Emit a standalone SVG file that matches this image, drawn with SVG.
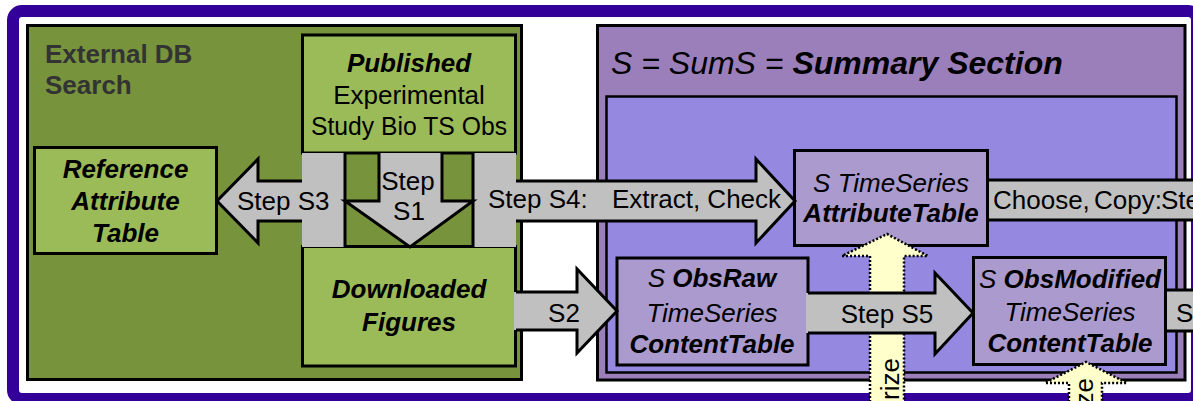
<svg xmlns="http://www.w3.org/2000/svg" width="1193" height="401" viewBox="0 0 1193 401">
<style>
  text { font-family: "Liberation Sans", Arial, "DejaVu Sans", sans-serif; font-size: 26px; fill: #000; }
  .bi { font-weight: bold; font-style: italic; }
  .i { font-style: italic; }
  .b { font-weight: bold; }
  .mid { text-anchor: middle; }
  .box { stroke: #000; stroke-width: 3; }
  .green { fill: #9BBB59; }
  .node { fill: #AA9ACD; }
  .grey { fill: #C0C0C0; }
  .edge { fill: none; stroke: #000; stroke-width: 3; stroke-linejoin: miter; }
  .yel { fill: #FFFFCC; stroke: #000; stroke-width: 2.5; stroke-dasharray: 2 2; }
</style>

<rect x="0" y="0" width="1193" height="401" fill="#FFFFFF"/>

<!-- outer frame -->
<rect id="frame" x="13" y="11" width="1184" height="388" rx="9" fill="none" stroke="#330099" stroke-width="12"/>

<!-- external database area -->
<g id="external-db">
  <rect x="27.5" y="25.5" width="494" height="354" fill="#77933C" class="box"/>
  <text x="45" y="63" class="b" style="fill:#333">External DB</text>
  <text x="45" y="94" class="b" style="fill:#333">Search</text>
</g>

<!-- summary section area -->
<g id="summary-section">
  <rect x="597.5" y="25.5" width="587.5" height="354.5" fill="#9B7FBB" class="box"/>
  <text x="611" y="74" style="font-size:32px"><tspan class="i">S = SumS = </tspan><tspan class="bi">Summary Section</tspan></text>
  <rect x="606.5" y="96.5" width="570" height="276" fill="#9488E0" stroke="#000" stroke-width="2.5"/>
</g>

<g id="node-reference">
  <rect x="34.5" y="147.5" width="182" height="106" class="box green"/>
  <text x="125.5" y="178" class="bi mid">Reference</text>
  <text x="125.5" y="210" class="bi mid">Attribute</text>
  <text x="125.5" y="242" class="bi mid">Table</text>
</g>

<g id="node-published">
  <rect x="302.5" y="35" width="213" height="118" class="box green"/>
  <text x="409" y="72" class="bi mid">Published</text>
  <text x="409" y="104" class="mid">Experimental</text>
  <text x="409" y="135" class="mid" textLength="196" lengthAdjust="spacingAndGlyphs">Study Bio TS Obs</text>
</g>

<g id="node-downloaded">
  <rect x="302.5" y="246.5" width="213" height="119.5" class="box green"/>
  <text x="409" y="298" class="bi mid">Downloaded</text>
  <text x="409" y="331" class="bi mid">Figures</text>
</g>

<g id="node-attribute-table">
  <rect x="794.5" y="150.5" width="193" height="95" class="box node"/>
  <text x="891" y="192" class="i mid">S TimeSeries</text>
  <text x="891" y="222" class="bi mid">AttributeTable</text>
</g>

<g id="node-obsraw">
  <rect x="617" y="258" width="191" height="107" class="box node"/>
  <text x="712" y="287" class="mid"><tspan class="i">S </tspan><tspan class="bi">ObsRaw</tspan></text>
  <text x="712" y="322" class="i mid">TimeSeries</text>
  <text x="712" y="353" class="bi mid">ContentTable</text>
</g>

<g id="node-obsmodified">
  <rect x="973.5" y="257.5" width="192" height="107" class="box node"/>
  <text x="1070" y="288" class="mid"><tspan class="i">S </tspan><tspan class="bi">ObsModified</tspan></text>
  <text x="1070" y="321" class="i mid">TimeSeries</text>
  <text x="1070" y="352" class="bi mid">ContentTable</text>
</g>

<g id="connectors">
  <!-- grey side columns between the two green boxes -->
  <rect x="302" y="153" width="43" height="94" class="grey"/>
  <line x1="345" y1="153" x2="345" y2="247" class="edge"/>
  <rect x="473" y="153" width="43" height="94" class="grey"/>
  <line x1="473" y1="153" x2="473" y2="247" class="edge"/>

  <!-- Step S1: down arrow -->
  <polygon points="379,153 379,201 345,201 410,247 473,201 442,201 442,153" class="grey"/>
  <polyline points="379,153 379,201 345,201 410,247 473,201 442,201 442,153" class="edge"/>
  <text x="408" y="190" class="mid">Step</text>
  <text x="409" y="220" class="mid">S1</text>

  <!-- Step S3: left arrow -->
  <polygon points="217,201 258,159 258,181 304,181 304,221 258,221 258,243" class="grey"/>
  <polyline points="302,181 258,181 258,159 217,201 258,243 258,221 302,221" class="edge"/>
  <text x="237" y="210">Step S3</text>

  <!-- Step S4: right arrow into the attribute table -->
  <polygon points="514,181 756,181 756,159 795,201 756,243 756,221 514,221" class="grey"/>
  <polyline points="516,181 756,181 756,159 795,201 756,243 756,221 516,221" class="edge"/>
  <text x="488" y="208">Step S4:</text>
  <text x="612" y="208">Extract, Check</text>

  <!-- Choose, Copy arrow leaving the attribute table -->
  <rect x="989" y="180" width="210" height="40" class="grey"/>
  <line x1="988" y1="180" x2="1199" y2="180" class="edge"/>
  <line x1="988" y1="220" x2="1199" y2="220" class="edge"/>
  <text y="209"><tspan x="993">Choose,</tspan><tspan x="1094">Copy:</tspan><tspan x="1161">Ste</tspan></text>

  <!-- S2: right arrow into the raw content table -->
  <polygon points="514,292 577,292 577,269 617,311 577,353 577,330 514,330" class="grey"/>
  <polyline points="516,292 577,292 577,269 617,311 577,353 577,330 516,330" class="edge"/>
  <text x="564" y="322" class="mid">S2</text>

  <!-- dotted upward arrows -->
  <path d="M870,410 L870,256 L842,256 L887,234 L928,256 L904,256 L904,410 Z" class="yel"/>
  <text transform="translate(899,358) rotate(-90)" text-anchor="end">rize</text>
  <path d="M1069,410 L1069,383 L1045,383 L1086,362 L1127,383 L1102,383 L1102,410 Z" class="yel"/>
  <text transform="translate(1093,378) rotate(-90)" text-anchor="end">ze</text>

  <!-- Step S5: right arrow into the modified content table -->
  <polygon points="806,293 935,293 935,273 973,313 935,354 935,333 806,333" class="grey"/>
  <polyline points="808,293 935,293 935,273 973,313 935,354 935,333 808,333" class="edge"/>
  <text x="887" y="323" class="mid">Step S5</text>

  <!-- arrow leaving the modified content table -->
  <rect x="1167" y="290" width="40" height="41" class="grey"/>
  <line x1="1166" y1="290" x2="1199" y2="290" class="edge"/>
  <line x1="1166" y1="331" x2="1199" y2="331" class="edge"/>
  <text x="1176" y="322">S</text>
</g>
</svg>
